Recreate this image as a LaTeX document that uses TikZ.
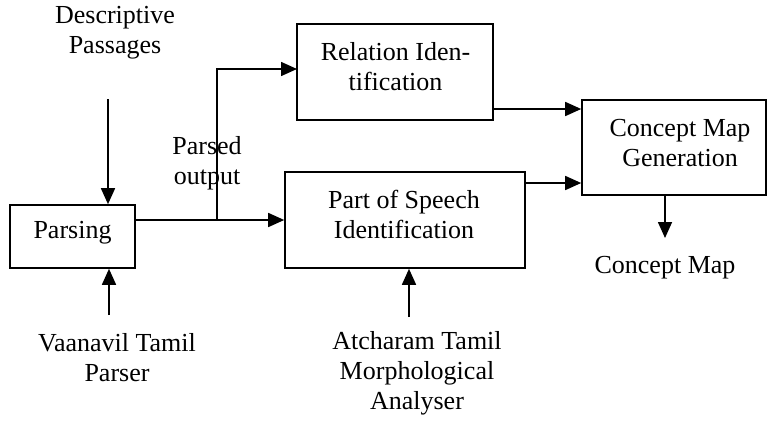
\documentclass[tikz,border=0pt]{standalone}
\usepackage{fontspec}
\setmainfont{Liberation Serif}
\usetikzlibrary{arrows.meta}
\begin{document}
\begin{tikzpicture}[x=1pt,y=-1pt,
  txt/.style={font=\fontsize{26}{30}\selectfont, align=center, inner sep=0pt},
  box/.style={draw, line width=1.6pt, inner sep=0pt},
  arr/.style={line width=1.6pt, -{Triangle[length=16pt,width=14pt]}},
  wire/.style={line width=1.6pt}]
\useasboundingbox (0,0) rectangle (767,423);
\fill[white] (0,0) rectangle (767,423);

% boxes
\node[box, minimum width=125pt, minimum height=63pt] (parse) at (72.5,236.5) {};
\node[box, minimum width=196pt, minimum height=96pt] (rel) at (395,72) {};
\node[box, minimum width=240pt, minimum height=96pt] (pos) at (405,220) {};
\node[box, minimum width=184pt, minimum height=95pt] (cmg) at (674,147.5) {};

% box texts
\node[txt] (parseT) at (72.5,233) {Parsing};
\node[txt] (relT) at (395.5,67) {Relation Iden-\\tification};
\node[txt] (posT) at (404,214.5) {Part of Speech\\Identification};
\node[txt] (cmgT) at (680,143.5) {Concept Map\\Generation};

% free texts
\node[txt] (desc) at (115,33) {Descriptive\\Passages};
\node[txt] (vaan) at (117,358) {Vaanavil Tamil\\Parser};
\node[txt] (pout) at (207,163) {Parsed\\output};
\node[txt] (atch) at (417,373) {Atcharam Tamil\\Morphological\\Analyser};
\node[txt] (cmap) at (665,268) {Concept Map};

% connector end points
\coordinate (dtop) at (108,99);
\coordinate (vbot) at (109,315);
\coordinate (br) at (217,220);
\coordinate (relin) at (297,69);
\coordinate (abot) at (409,317);
\coordinate (cmdown) at (665,238);
\coordinate (r1) at (0,109);
\coordinate (r2) at (0,183);

% connectors
\draw[arr] (dtop) -- (dtop |- parse.north);
\draw[arr] (vbot) -- (vbot |- parse.south);
\draw[arr] (parse.east |- pos.west) -- (pos.west);
\draw[arr] (br) |- (relin);
\draw[arr] (rel.east |- r1) -- (cmg.west |- r1);
\draw[arr] (pos.east |- r2) -- (cmg.west |- r2);
\draw[arr] (cmdown |- cmg.south) -- (cmdown);
\draw[arr] (abot) -- (abot |- pos.south);
\end{tikzpicture}
\end{document}
